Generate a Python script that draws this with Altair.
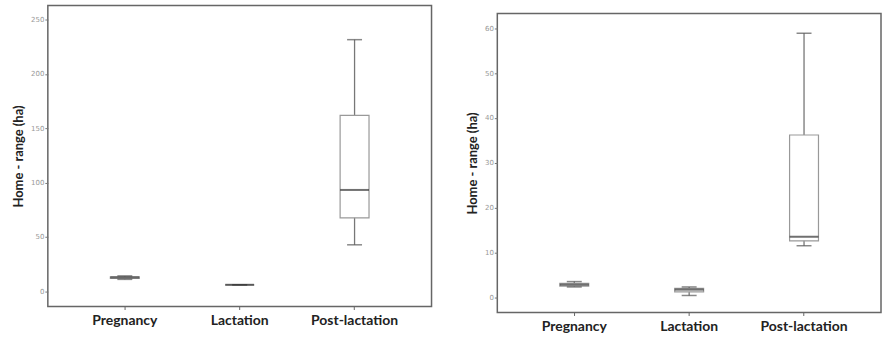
import altair as alt
import pandas as pd

categories = ["Pregnancy", "Lactation", "Post-lactation"]

# Left panel (home-range, ha)
left_lo = [11.0, 6.0, 42.8]
left_q1 = [11.8, 6.0, 67.6]
left_med = [12.8, 6.0, 93.3]
left_q3 = [13.4, 6.0, 162.0]
left_hi = [14.2, 6.0, 231.6]
left_ticks = [0, 50, 100, 150, 200, 250]

# Right panel (home-range, ha)
right_lo = [2.3, 0.4, 11.5]
right_q1 = [2.5, 1.2, 12.6]
right_med = [2.8, 1.7, 13.5]
right_q3 = [3.1, 2.0, 36.2]
right_hi = [3.5, 2.3, 58.9]
right_ticks = [0, 10, 20, 30, 40, 50, 60]

FONT = "Lato"


def panel(lo, q1, med, q3, hi, domain, ticks, width, height):
    df = pd.DataFrame({"cat": categories, "lo": lo, "q1": q1, "med": med, "q3": q3, "hi": hi})
    x = alt.X("cat:N", sort=categories,
              scale=alt.Scale(paddingInner=0, paddingOuter=0.17),
              axis=alt.Axis(title=None, labelAngle=0, labelFont=FONT, labelFontWeight="bold",
                            labelFontSize=14, labelColor="#222", domain=False,
                            tickSize=3, tickColor="#666", labelPadding=4))
    yscale = alt.Scale(domain=domain, nice=False, zero=False)
    yaxis = alt.Axis(title="Home - range (ha)", values=ticks, titleFont=FONT,
                     titleFontWeight="bold", titleFontSize=13, titleColor="#222",
                     labelFont="DejaVu Sans", labelFontSize=7, labelColor="#999",
                     domain=False, grid=False, tickSize=3, tickColor="#777",
                     titlePadding=5, labelPadding=1)
    base = alt.Chart(df)
    whisk = base.mark_rule(color="#777", strokeWidth=1.3).encode(
        x=x, y=alt.Y("lo:Q", scale=yscale, axis=yaxis), y2="hi:Q")
    box = base.mark_bar(size=29, fill="white", stroke="#999", strokeWidth=1.2).encode(
        x=x, y=alt.Y("q1:Q", scale=yscale), y2="q3:Q")
    capl = base.mark_tick(size=15, thickness=1.5, color="#555", orient="horizontal").encode(
        x=x, y=alt.Y("lo:Q", scale=yscale))
    caph = base.mark_tick(size=15, thickness=1.5, color="#555", orient="horizontal").encode(
        x=x, y=alt.Y("hi:Q", scale=yscale))
    medm = base.mark_tick(size=29, thickness=2, color="#333", orient="horizontal").encode(
        x=x, y=alt.Y("med:Q", scale=yscale))
    return alt.layer(whisk, box, capl, caph, medm).properties(width=width, height=height)


left = panel(left_lo, left_q1, left_med, left_q3, left_hi, [-14, 263], left_ticks, 385, 302)
right = panel(right_lo, right_q1, right_med, right_q3, right_hi, [-3.4, 63.3], right_ticks, 385, 300)

spacer = alt.Chart(pd.DataFrame({"a": [0]})).mark_point(opacity=0, size=0).encode(
    x=alt.value(1), y=alt.value(0.5)
).properties(width=385, height=1, view=alt.ViewBackground(stroke="transparent"))

right_col = alt.vconcat(spacer, right, spacing=5)

chart = alt.hconcat(left, right_col, spacing=33).configure_view(
    stroke="#666", strokeWidth=1.5
).properties(padding={"left": 11, "top": 4, "right": 0, "bottom": 0}, background="white")

chart.save("out.html", embed_options={"renderer": "svg", "actions": False})
